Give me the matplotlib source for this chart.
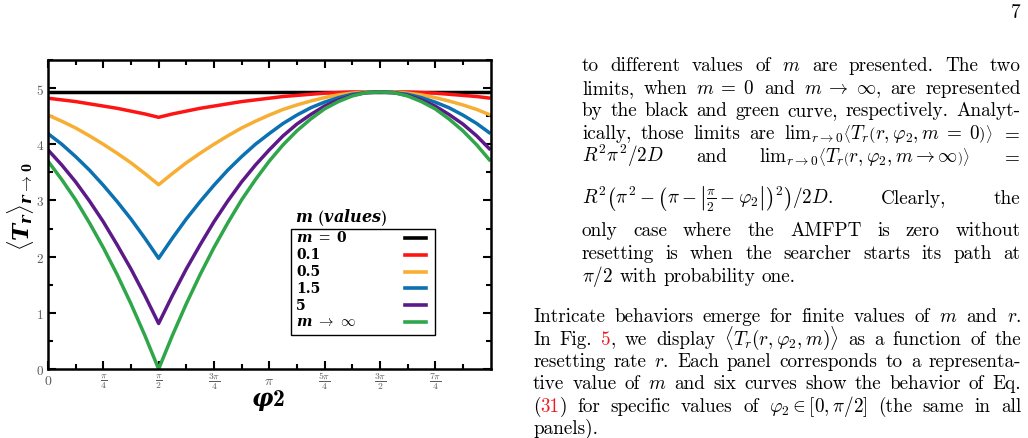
import numpy as np
import matplotlib
matplotlib.use("Agg")
import matplotlib.pyplot as plt
from matplotlib.patches import Rectangle
from matplotlib.lines import Line2D

plt.rcParams["mathtext.fontset"] = "cm"
plt.rcParams["mathtext.rm"] = "cmb10"
plt.rcParams["mathtext.bf"] = "cmb10"
plt.rcParams["mathtext.it"] = "DejaVu Serif:italic:bold"

# ---------------- data ----------------
phi = np.linspace(0, 2 * np.pi, 33)          # sample angles, pi/16 apart

T_m0 = [4.93] * 33
T_m01 = [4.82, 4.79, 4.76, 4.72, 4.68, 4.64, 4.59, 4.54, 4.48,
         4.54, 4.59, 4.64, 4.68, 4.72, 4.76, 4.79, 4.82,
         4.85, 4.87, 4.89, 4.91, 4.92, 4.93, 4.93, 4.93,
         4.93, 4.93, 4.92, 4.91, 4.89, 4.87, 4.85, 4.82]
T_m05 = [4.52, 4.41, 4.29, 4.15, 4.00, 3.84, 3.67, 3.48, 3.28,
         3.48, 3.67, 3.84, 4.00, 4.15, 4.29, 4.41, 4.52,
         4.62, 4.70, 4.77, 4.83, 4.88, 4.91, 4.93, 4.93,
         4.93, 4.91, 4.88, 4.83, 4.77, 4.70, 4.62, 4.52]
T_m15 = [4.19, 4.00, 3.78, 3.54, 3.27, 2.98, 2.67, 2.33, 1.97,
         2.33, 2.67, 2.98, 3.27, 3.54, 3.78, 4.00, 4.19,
         4.37, 4.52, 4.65, 4.75, 4.83, 4.89, 4.92, 4.93,
         4.92, 4.89, 4.83, 4.75, 4.65, 4.52, 4.37, 4.19]
T_m5 = [3.90, 3.63, 3.33, 2.99, 2.62, 2.21, 1.78, 1.31, 0.81,
        1.31, 1.78, 2.21, 2.62, 2.99, 3.33, 3.63, 3.90,
        4.15, 4.36, 4.53, 4.68, 4.79, 4.87, 4.92, 4.93,
        4.92, 4.87, 4.79, 4.68, 4.53, 4.36, 4.15, 3.90]
T_minf = [3.70, 3.37, 3.01, 2.60, 2.16, 1.68, 1.16, 0.60, 0.00,
          0.60, 1.16, 1.68, 2.16, 2.60, 3.01, 3.37, 3.70,
          3.99, 4.24, 4.45, 4.63, 4.76, 4.86, 4.92, 4.93,
          4.92, 4.86, 4.76, 4.63, 4.45, 4.24, 3.99, 3.70]

series = [T_m0, T_m01, T_m05, T_m15, T_m5, T_minf]
# each legend label: (math part, plain bold part)
legend_labels = [(r"$m\;=$", "0"), ("", "0.1"), ("", "0.5"), ("", "1.5"), ("", "5"),
                 (r"$m\;\to\;\infty$", "")]
colors = ["black", "#ff1414", "#f6ae33", "#0b71b0", "#5c1a88", "#2fa64a"]

xtick_vals = np.arange(8) * np.pi / 4
xtick_labels = [r"$0$", r"$\frac{\pi}{4}$", r"$\frac{\pi}{2}$", r"$\frac{3\pi}{4}$",
                r"$\pi$", r"$\frac{5\pi}{4}$", r"$\frac{3\pi}{2}$", r"$\frac{7\pi}{4}$"]
ytick_vals = [0, 1, 2, 3, 4, 5]
ytick_labels = [r"$0$", r"$1$", r"$2$", r"$3$", r"$4$", r"$5$"]

# ---------------- figure ----------------
W, H = 1028, 439
fig = plt.figure(figsize=(W / 100, H / 100), dpi=100)
renderer = fig.canvas.get_renderer()

def fx(x):
    return x / W

def fy(y):
    return 1 - y / H

ax = fig.add_axes([fx(48), fy(370), (490.5 - 48) / W, (370 - 61) / H])
for s, c in zip(series, colors):
    ax.plot(phi, s, color=c, lw=2.5, solid_capstyle="butt")

ax.set_xlim(0, 2 * np.pi)
ax.set_ylim(0, 5.5)
ax.set_xticks(xtick_vals)
ax.set_xticklabels(xtick_labels, va="center")
ax.set_xticks(np.arange(16) * np.pi / 8, minor=True)
ax.set_yticks(ytick_vals)
ax.set_yticklabels(ytick_labels)
ax.set_yticks(np.arange(0, 5.51, 0.5), minor=True)
ax.tick_params(which="both", direction="in", top=True, right=True, width=1.5,
               labelcolor="#5a5a5a")
ax.tick_params(which="major", length=6)
ax.tick_params(which="minor", length=3.5)
ax.tick_params(axis="x", pad=8, labelsize=10)
ax.tick_params(axis="y", pad=3, labelsize=9.5)
for sp in ax.spines.values():
    sp.set_linewidth(1.8)

# axis labels (bold)
fig.text(fx(20), fy(207), r"$\langle T_r\rangle_{r\to 0}$", rotation=90,
         ha="center", va="center", fontsize=16.5, math_fontfamily="custom")
fig.text(fx(268), fy(400.5), r"$\varphi2$", ha="center", va="center",
         fontsize=17, math_fontfamily="custom")

# legend (drawn by hand: labels left, handles right, title outside frame)
fig.text(fx(295), fy(218), r"$m\ (values)$", ha="left", va="center",
         fontsize=11.5, math_fontfamily="custom")
fig.add_artist(Rectangle((fx(290.7), fy(336)), (435 - 290.7) / W, (336 - 230) / H,
                         transform=fig.transFigure, fill=False, lw=1.0, ec="black"))
for i, ((mpart, tpart), c) in enumerate(zip(legend_labels, colors)):
    yc = 239 + i * 16.8
    x = 296
    if mpart:
        t = fig.text(fx(x), fy(yc + 3.5), mpart, ha="left", va="baseline", fontsize=10.5,
                     math_fontfamily="custom")
        x += t.get_window_extent(renderer).width + 5
    if tpart:
        fig.text(fx(x), fy(yc + 3.5), tpart, ha="left", va="baseline", fontsize=10,
                 family="DejaVu Serif", fontweight="bold")
    fig.add_artist(Line2D([fx(405), fx(426)], [fy(yc), fy(yc)], color=c, lw=2.6,
                          transform=fig.transFigure))

# ---------------- page text ----------------
FS = 13.8
TXT = dict(family="cmr10", fontsize=FS, va="baseline", ha="left")

def measure(s):
    t = fig.text(0, 0, s, **TXT)
    w = t.get_window_extent(renderer).width
    t.remove()
    return w

SPACE = 6.3

def draw_line(line, x0, x1, base, justify=True):
    toks = line.split(" ")
    pieces = []
    for tok in toks:
        parts = tok.split("@")
        pieces.append([(p, "#ee1c24" if k % 2 else "black") for k, p in enumerate(parts) if p])
    widths = [sum(measure(p) for p, _ in tk) for tk in pieces]
    if justify and len(pieces) > 1:
        gap = (x1 - x0 - sum(widths)) / (len(pieces) - 1)
    else:
        gap = SPACE
    x = x0
    for tk, w in zip(pieces, widths):
        xx = x
        for p, c in tk:
            fig.text(fx(xx), fy(base), p, color=c, **TXT)
            xx += measure(p)
        x += w + gap

para1 = [
    (r"to different values of $m$ are presented. The two", 71.0, True),
    (r"limits, when $m\;=\;0$ and $m\;\to\;\infty$, are represented", 93.7, True),
    (r"by the black and green curve, respectively. Analyt-", 116.4, True),
    (r"ically, those limits are $\mathrm{lim}_{r\to{0}}\left\langle{T_r\left(r,\varphi_2,m\;=\;0\right)}\right\rangle$ $=$", 139.1, True),
    (r"$R^2\pi^2/2D$ and $\mathrm{lim}_{r\to{0}}\left\langle{T_r\left(r,\varphi_2,m\to\infty\right)}\right\rangle$ $=$", 162.0, True),
    (r"$R^2\left(\pi^2-\left(\pi-\left|\frac{\pi}{2}-\varphi_2\right|\right)^2\right)/2D.$ Clearly, the", 204.0, True),
    (r"only case where the AMFPT is zero without", 236.5, True),
    (r"resetting is when the searcher starts its path at", 259.2, True),
    (r"$\pi/2$ with probability one.", 282.0, False),
]
for line, base, just in para1:
    draw_line(line, 582, 1020.5, base, just)

para2 = [
    (r"Intricate behaviors emerge for finite values of $m$ and $r$.", True),
    (r"In Fig. @5@, we display $\langle{T_r(r,\varphi_2,m)}\rangle$ as a function of the", True),
    (r"resetting rate $r$. Each panel corresponds to a representa-", True),
    (r"tive value of $m$ and six curves show the behavior of Eq.", True),
    (r"(@31@) for specific values of $\varphi_2\in[0,\pi/2]$ (the same in all", True),
    (r"panels).", False),
]
for i, (line, just) in enumerate(para2):
    draw_line(line, 533, 1021, 322.5 + i * 22.3, just)

fig.text(fx(1020), fy(18), "7", family="cmr10", fontsize=FS, ha="right", va="baseline")

fig.savefig("out.png", dpi=100)
